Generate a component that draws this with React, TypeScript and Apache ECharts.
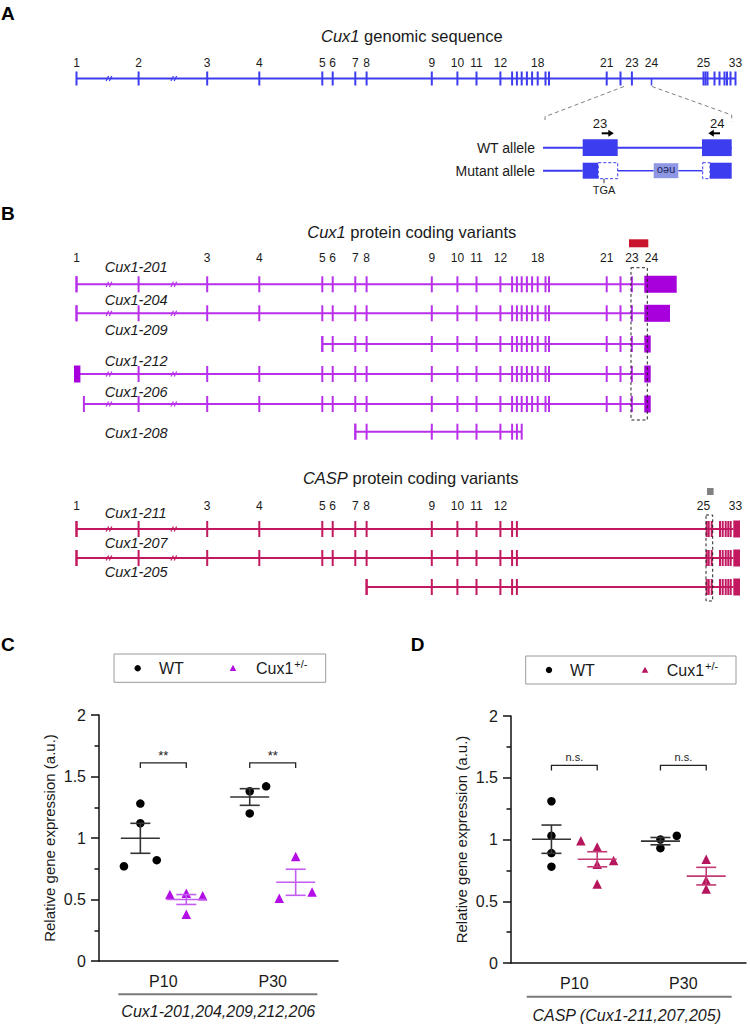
import React, { useEffect, useRef } from 'react';
import * as echarts from 'echarts';

const FONT = '"Liberation Sans", Arial, Helvetica, sans-serif';

// ---------------- data ----------------
// Exon 1..33 positions along the Cux1 locus (diagram units)
const exonPos = [76.5, 138.6, 207.2, 259.3, 322.3, 332.7, 355.3, 366.6, 431.8, 457.4, 476.5, 500.4,
  512.1, 516.9, 521.7, 526.9, 532.1, 537.7, 545.5, 549.0, 606.7, 620.5, 631.9, 651.5,
  703.5, 705.5, 707.5, 714.5, 719.5, 724.5, 727.0, 730.5, 735.5];
const genomicLabels = [1, 2, 3, 4, 5, 6, 7, 8, 9, 10, 11, 12, 18, 21, 23, 24, 25, 33];
const cux1ExonLabels = [1, 3, 4, 5, 6, 7, 8, 9, 10, 11, 12, 18, 21, 23, 24];
const caspExonLabels = [1, 3, 4, 5, 6, 7, 8, 9, 10, 11, 12, 25, 33];
const breakPos = [109, 173.8];

const cux1Names = ['Cux1-201', 'Cux1-204', 'Cux1-209', 'Cux1-212', 'Cux1-206', 'Cux1-208'];
const cux1FirstTick = [1, 1, 5, 2, 2, 7];
const cux1LastTick = [23, 23, 23, 23, 23, 15];
const cux1StartX = [76.5, 76.5, 322.3, 77.2, 83.9, 355.3];
const cux1EndX = [644.3, 644.3, 644.3, 644.3, 644.3, 521.7];
const cux1FirstBox: (number[] | null)[] = [null, null, null, [74, 80.4], null, null];
const cux1LastBox: (number[] | null)[] = [[644.3, 676.7], [644.3, 670], [644.3, 650.7], [644.3, 650.7], [644.3, 650.7], null];
const cux1Region = [631, 647.3]; // exon 23-24 boxed region
const cux1Probe = [629, 648.3];

const caspNames = ['Cux1-211', 'Cux1-207', 'Cux1-205'];
const caspFirstTick = [1, 1, 8];
const caspLastTick = [14, 14, 14];
const caspStartX = [76.5, 76.5, 366.6];
const caspEndX = [733.3, 733.3, 733.3];
const casp3Ticks = [706.7, 708.7, 711.7, 720.0, 722.7, 725.7, 728.3, 730.7];
const caspLastBox = [733.3, 740];
const caspRegion = [706, 712.7];
const caspProbe = [707, 713.6];

// inset: exon 23-24 of WT and mutant allele
const alleleSpan = [543, 731.7];
const wtExons = [[582.7, 617.7], [702, 731.7]];
const mutExons = [[582.7, 598.3], [710, 731.7]];
const mutDeleted = [[598.3, 617.7], [702.7, 710]];
const neoCassette = [653.7, 678.3];
const mutLineSegs = [[543, 582.7], [617.7, 653.7], [678.3, 702.7]];

// quantification
const categories = ['P10', 'P30'];
const yTickLabels = ['0', '0.5', '1', '1.5', '2'];
const cWtP10 = [0.77, 1.28, 1.12, 0.82];
const cMutP10 = [0.54, 0.55, 0.38, 0.53];
const cWtP30 = [1.38, 1.42, 1.20];
const cMutP30 = [0.51, 0.85, 0.56];
const dWtP10 = [1.31, 1.03, 0.89, 0.78];
const dMutP10 = [0.99, 0.94, 0.80, 0.83, 0.64];
const dWtP30 = [1.00, 0.93, 1.03];
const dMutP30 = [0.84, 0.67, 0.60];
const cSignif = ['**', '**'];
const dSignif = ['n.s.', 'n.s.'];

// ---------------- layout / style ----------------
const ROW_A = 78.5;
const cux1RowY = [284.3, 313.3, 344, 374, 404, 431.7];
const cux1LabelY = [266.7, 300, 330, 360.7, 392, 433];
const caspRowY = [529, 558, 587];
const caspLabelY = [513.3, 543.3, 571.5];
const jit = {
  cWtP10: [-1, 0, 0, 1], cMutP10: [-1, 0, 0, 1], cWtP30: [0, 1, 0], cMutP30: [-1, 0, 1],
  dWtP10: [0, 0, 0, 0], dMutP10: [-1, 0, 0, 1, 0], dWtP30: [0, 0, 1], dMutP30: [0, 0, 0],
};
const GROUP_OFF = 0.21;
const JIT_STEP = 0.15;

const BLUE = '#3d3df0';
const NEO = '#8e97e3';
const PURPLE = '#b930ea';
const PURPLE_BOX = '#a800dc';
const CRIMSON = '#c2185f';
const RED = '#c8142c';
const TXT = '#1a1a1a';
const MUT_C = '#b30ee6';
const MUT_C_BAR = '#c35cf0';
const MUT_D = '#b5155c';
const MUT_D_BAR = '#c33a74';

type Item =
  | { t: 'line'; a: number[]; b: number[]; c: string; w: number; dash?: number[] }
  | { t: 'rect'; a: number[]; b: number[]; fill: string; stroke?: string; w?: number; dash?: number[] }
  | { t: 'poly'; pts: number[][]; c: string; w: number; dash?: number[] }
  | { t: 'text'; a: number[]; s: string; size: number; c: string };

function renderShape(it: Item, api: any) {
  const P = (p: number[]) => api.coord(p);
  if (it.t === 'line') {
    const a = P(it.a), b = P(it.b);
    const style: any = { stroke: it.c, lineWidth: it.w, fill: null };
    if (it.dash) style.lineDash = it.dash;
    return { type: 'line', shape: { x1: a[0], y1: a[1], x2: b[0], y2: b[1] }, style };
  }
  if (it.t === 'rect') {
    const a = P(it.a), b = P(it.b);
    const style: any = { fill: it.fill, stroke: it.stroke || null, lineWidth: it.w || 0 };
    if (it.dash) style.lineDash = it.dash;
    return {
      type: 'rect',
      shape: { x: Math.min(a[0], b[0]), y: Math.min(a[1], b[1]), width: Math.abs(b[0] - a[0]), height: Math.abs(b[1] - a[1]) },
      style,
    };
  }
  if (it.t === 'poly') {
    const style: any = { stroke: it.c, lineWidth: it.w, fill: null };
    if (it.dash) style.lineDash = it.dash;
    return { type: 'polyline', shape: { points: it.pts.map(P) }, style };
  }
  const a = P(it.a);
  return {
    type: 'text',
    style: {
      text: it.s, x: a[0], y: a[1], fill: it.c, fontSize: it.size, fontFamily: FONT,
      align: 'center', verticalAlign: 'middle', textAlign: 'center', textVerticalAlign: 'middle',
    },
  };
}

function anchor(it: Item) {
  if (it.t === 'poly') return it.pts[0];
  return it.a;
}

function diagramSeries(items: Item[], z: number) {
  return {
    type: 'custom', coordinateSystem: 'cartesian2d', xAxisIndex: 0, yAxisIndex: 0,
    z, silent: true, clip: false, animation: false,
    data: items.map(anchor),
    renderItem: (params: any, api: any) => renderShape(items[params.dataIndex], api),
  };
}

function mean(v: number[]) { return v.reduce((s, x) => s + x, 0) / v.length; }
function sem(v: number[]) {
  const m = mean(v);
  const sd = Math.sqrt(v.reduce((s, x) => s + (x - m) * (x - m), 0) / (v.length - 1));
  return sd / Math.sqrt(v.length);
}

function buildDiagram() {
  const lines: Item[] = [];
  const ticks: Item[] = [];
  const boxes: Item[] = [];
  const over: Item[] = [];
  const texts: Item[] = [];
  const tick = (x: number, y: number, h: number, c: string) => ticks.push({ t: 'line', a: [x, y - h], b: [x, y + h], c, w: 2 });
  const brk = (x: number, y: number, c: string) => {
    for (const dx of [-1.6, 1.6]) over.push({ t: 'line', a: [x + dx - 1.2, y + 2.6], b: [x + dx + 1.2, y - 2.6], c, w: 1.2 });
  };
  const box = (x1: number, x2: number, y: number, h: number, fill: string) => boxes.push({ t: 'rect', a: [x1, y - h], b: [x2, y + h], fill });

  // ---- A: genomic sequence
  lines.push({ t: 'line', a: [exonPos[0], ROW_A], b: [exonPos[32], ROW_A], c: BLUE, w: 2 });
  exonPos.forEach((x, i) => {
    if (i === 23) ticks.push({ t: 'line', a: [x, ROW_A], b: [x, ROW_A + 7], c: BLUE, w: 1.5 });
    else tick(x, ROW_A, 7, BLUE);
  });
  breakPos.forEach((x) => brk(x, ROW_A, BLUE));
  genomicLabels.forEach((n) => texts.push({ t: 'text', a: [exonPos[n - 1], 63], s: String(n), size: 12, c: TXT }));
  over.push({ t: 'poly', pts: [[624, 86.5], [alleleSpan[0] + 2, 116.7], [alleleSpan[0] + 2, 123]], c: '#808080', w: 1, dash: [4, 3] });
  over.push({ t: 'poly', pts: [[652, 86.5], [alleleSpan[1], 115], [alleleSpan[1], 121.7]], c: '#808080', w: 1, dash: [4, 3] });

  // ---- A inset
  const WT_Y = 147.7, MUT_Y = 170.7;
  lines.push({ t: 'line', a: [alleleSpan[0], WT_Y], b: [alleleSpan[1], WT_Y], c: BLUE, w: 2 });
  wtExons.forEach(([a, b]) => boxes.push({ t: 'rect', a: [a, WT_Y - 8.4], b: [b, WT_Y + 8.4], fill: BLUE }));
  mutLineSegs.forEach(([a, b], i) => lines.push({ t: 'line', a: [a, MUT_Y], b: [b, MUT_Y], c: BLUE, w: i === 0 ? 2 : 1.5 }));
  mutExons.forEach(([a, b]) => boxes.push({ t: 'rect', a: [a, MUT_Y - 8], b: [b, MUT_Y + 8], fill: BLUE }));
  mutDeleted.forEach(([a, b]) => boxes.push({ t: 'rect', a: [a, MUT_Y - 8], b: [b, MUT_Y + 8], fill: '#ffffff', stroke: BLUE, w: 1, dash: [3, 2] }));
  boxes.push({ t: 'rect', a: [neoCassette[0], MUT_Y - 7.5], b: [neoCassette[1], MUT_Y + 7.5], fill: NEO });
  over.push({ t: 'line', a: [604, MUT_Y + 8], b: [604, MUT_Y + 12.5], c: '#333', w: 1 });

  // ---- B: Cux1 protein coding variants
  cux1Names.forEach((_, i) => {
    const y = cux1RowY[i];
    lines.push({ t: 'line', a: [cux1StartX[i], y], b: [cux1EndX[i], y], c: PURPLE, w: 2 });
    for (let e = cux1FirstTick[i]; e <= cux1LastTick[i]; e++) tick(exonPos[e - 1], y, 8, PURPLE);
    const fb = cux1FirstBox[i];
    if (fb) box(fb[0], fb[1], y, 8.5, PURPLE_BOX);
    else tick(cux1StartX[i], y, 8, PURPLE);
    const lb = cux1LastBox[i];
    if (lb) box(lb[0], lb[1], y, 8.5, PURPLE_BOX);
    if (cux1StartX[i] < breakPos[0]) breakPos.forEach((x) => brk(x, y, PURPLE));
  });
  cux1ExonLabels.forEach((n) => texts.push({ t: 'text', a: [exonPos[n - 1], 258], s: String(n), size: 12, c: TXT }));
  boxes.push({ t: 'rect', a: [cux1Probe[0], 239.3], b: [cux1Probe[1], 247.3], fill: RED });
  over.push({ t: 'rect', a: [cux1Region[0], 267.7], b: [cux1Region[1], 420], fill: 'none', stroke: '#222', w: 1, dash: [3, 2.5] });

  // ---- B: CASP protein coding variants
  caspNames.forEach((_, i) => {
    const y = caspRowY[i];
    lines.push({ t: 'line', a: [caspStartX[i], y], b: [caspEndX[i], y], c: CRIMSON, w: 2 });
    for (let e = caspFirstTick[i]; e <= caspLastTick[i]; e++) tick(exonPos[e - 1], y, 8, CRIMSON);
    tick(caspStartX[i], y, 8, CRIMSON);
    casp3Ticks.forEach((x) => tick(x, y, 8, CRIMSON));
    box(caspLastBox[0], caspLastBox[1], y, 8.5, CRIMSON);
    if (caspStartX[i] < breakPos[0]) breakPos.forEach((x) => brk(x, y, CRIMSON));
  });
  caspExonLabels.forEach((n) => texts.push({ t: 'text', a: [exonPos[n - 1], 505.7], s: String(n), size: 12, c: TXT }));
  boxes.push({ t: 'rect', a: [caspProbe[0], 488], b: [caspProbe[1], 495], fill: '#808080' });
  over.push({ t: 'rect', a: [caspRegion[0], 515], b: [caspRegion[1], 601], fill: 'none', stroke: '#222', w: 1, dash: [3, 2.5] });

  return [diagramSeries(lines, 2), diagramSeries(ticks, 3), diagramSeries(boxes, 4), diagramSeries(over, 5), diagramSeries(texts, 6)];
}

function scatterPanel(idx: number, groups: { name: string; vals: number[]; j: number[]; cat: number; side: number; color: string; bar: string; sym: string }[], signif: string[], sigY: number) {
  const series: any[] = [];
  groups.forEach((g) => {
    const cx = g.cat + g.side * GROUP_OFF;
    series.push({
      type: 'scatter', name: g.name, xAxisIndex: idx, yAxisIndex: idx, z: 4,
      symbol: g.sym, symbolSize: g.sym === 'circle' ? 8.5 : 9.5,
      itemStyle: { color: g.color, opacity: 1 },
      data: g.vals.map((v, k) => [cx + g.j[k] * JIT_STEP, v]),
    });
    const m = mean(g.vals), s = sem(g.vals);
    series.push({
      type: 'custom', xAxisIndex: idx, yAxisIndex: idx, z: 5, silent: true, clip: false,
      data: [[cx, m, m - s, m + s]],
      renderItem: (_p: any, api: any) => {
        const c = api.coord([api.value(0), api.value(1)]);
        const lo = api.coord([api.value(0), api.value(2)]);
        const hi = api.coord([api.value(0), api.value(3)]);
        const st = { stroke: g.bar, lineWidth: 1.6 };
        return {
          type: 'group',
          children: [
            { type: 'line', shape: { x1: c[0] - 19.5, y1: c[1], x2: c[0] + 19.5, y2: c[1] }, style: st },
            { type: 'line', shape: { x1: c[0], y1: lo[1], x2: c[0], y2: hi[1] }, style: st },
            { type: 'line', shape: { x1: c[0] - 10, y1: lo[1], x2: c[0] + 10, y2: lo[1] }, style: st },
            { type: 'line', shape: { x1: c[0] - 10, y1: hi[1], x2: c[0] + 10, y2: hi[1] }, style: st },
          ],
        };
      },
    });
  });
  series.push({
    type: 'custom', xAxisIndex: idx, yAxisIndex: idx, z: 5, silent: true, clip: false,
    data: signif.map((_, k) => [k + 1 - GROUP_OFF, k + 1 + GROUP_OFF, sigY]),
    renderItem: (p: any, api: any) => {
      const a = api.coord([api.value(0), api.value(2)]);
      const b = api.coord([api.value(1), api.value(2)]);
      const t = signif[p.dataIndex];
      return {
        type: 'group',
        children: [
          { type: 'polyline', shape: { points: [[a[0], a[1] + 5], [a[0], a[1]], [b[0], b[1]], [b[0], b[1] + 5]] }, style: { stroke: '#222', lineWidth: 1.3, fill: null } },
          {
            type: 'text',
            style: {
              text: t, x: (a[0] + b[0]) / 2, y: a[1] - (t === '**' ? 7 : 8.5), fill: '#222', fontSize: t === '**' ? 13 : 11, fontFamily: FONT,
              align: 'center', verticalAlign: 'middle', textAlign: 'center', textVerticalAlign: 'middle',
            },
          },
        ],
      };
    },
  });
  return series;
}

function valueAxes(gridIndex: number, min: number, max: number) {
  const x = {
    type: 'value', gridIndex, min, max,
    axisLine: { show: true, onZero: false, lineStyle: { color: '#111', width: 1.5 } },
    axisTick: { show: false }, splitLine: { show: false },
    axisLabel: {
      show: true, customValues: [1, 2], color: TXT, fontSize: 16, fontFamily: FONT, margin: 12,
      formatter: (v: number) => categories[Math.round(v) - 1] || '',
    },
  };
  const y = {
    type: 'value', gridIndex, min: 0, max: 2, interval: 0.5,
    name: 'Relative gene expression (a.u.)', nameLocation: 'middle', nameGap: 42,
    nameTextStyle: { color: TXT, fontSize: 15, fontFamily: FONT },
    axisLine: { show: true, lineStyle: { color: '#111', width: 1.5 } },
    axisTick: { show: true, length: 8, lineStyle: { color: '#111', width: 1.5 } },
    minorTick: { show: true, splitNumber: 2, length: 4.5, lineStyle: { color: '#111', width: 1.5 } },
    splitLine: { show: false }, minorSplitLine: { show: false },
    axisLabel: {
      color: TXT, fontSize: 16, fontFamily: FONT, margin: 13,
      formatter: (v: number) => yTickLabels[Math.round(v * 2)] ?? '',
    },
  };
  return { x, y };
}

function txt(x: number, y: number, text: string, o: any = {}) {
  return {
    type: 'text', x, y, z: 100, silent: true, rotation: o.rot || 0,
    style: {
      text, fill: o.color || TXT, fontSize: o.size || 14, fontFamily: FONT,
      fontStyle: o.italic ? 'italic' : 'normal', fontWeight: o.bold ? 'bold' : 'normal',
      align: o.align || 'left', verticalAlign: 'middle', textAlign: o.align || 'left', textVerticalAlign: 'middle',
      rich: o.rich,
    },
  };
}

function titleRich(size: number) {
  return {
    i: { fontStyle: 'italic', fontSize: size, fontFamily: FONT, fill: TXT },
    n: { fontSize: size, fontFamily: FONT, fill: TXT },
  };
}

function legend(x0: number, y0: number, w: number, h: number, dotX: number, wtX: number, triX: number, mutX: number, triColor: string) {
  const cy = y0 + h / 2;
  return [
    { type: 'rect', z: 90, silent: true, shape: { x: x0, y: y0, width: w, height: h }, style: { fill: '#fff', stroke: '#9a9a9a', lineWidth: 1 } },
    { type: 'circle', z: 100, silent: true, shape: { cx: dotX, cy, r: 3.2 }, style: { fill: '#000' } },
    txt(wtX, cy, 'WT', { size: 16 }),
    { type: 'polygon', z: 100, silent: true, shape: { points: [[triX, cy - 3.3], [triX + 3.3, cy + 2.8], [triX - 3.3, cy + 2.8]] }, style: { fill: triColor } },
    txt(mutX, cy, '{a|Cux1}{b|+/-}', {
      rich: {
        a: { fontSize: 16, fontFamily: FONT, fill: TXT, lineHeight: 20, verticalAlign: 'middle' },
        b: { fontSize: 11, fontFamily: FONT, fill: TXT, lineHeight: 20, verticalAlign: 'top', padding: [0, 0, 0, 1] },
      },
    }),
  ];
}

function buildOption() {
  const cAx = valueAxes(1, 0.412, 2.597);
  const dAx = valueAxes(2, 0.419, 2.575);
  const graphic: any[] = [
    txt(1, 13, 'A', { bold: true, size: 19, color: '#000' }),
    txt(1, 213, 'B', { bold: true, size: 19, color: '#000' }),
    txt(1, 644, 'C', { bold: true, size: 19, color: '#000' }),
    txt(410.7, 644, 'D', { bold: true, size: 19, color: '#000' }),
    txt(411.8, 36, '{i|Cux1}{n| genomic sequence}', { align: 'center', rich: titleRich(16.5) }),
    txt(411.8, 231.7, '{i|Cux1}{n| protein coding variants}', { align: 'center', rich: titleRich(16.5) }),
    txt(410.7, 478.3, '{i|CASP}{n| protein coding variants}', { align: 'center', rich: titleRich(16.5) }),
    // inset texts
    txt(535, 147.7, 'WT allele', { align: 'right', size: 14 }),
    txt(535, 170.7, 'Mutant allele', { align: 'right', size: 14 }),
    txt(600, 123.3, '23', { align: 'center', size: 13 }),
    txt(717.3, 123.3, '24', { align: 'center', size: 13 }),
    txt(604, 190, 'TGA', { align: 'center', size: 11 }),
    txt(666, 171, 'neo', { align: 'center', size: 11, rot: Math.PI, color: '#1d2459' }),
    { type: 'line', z: 100, silent: true, shape: { x1: 601.7, y1: 133.3, x2: 609.5, y2: 133.3 }, style: { stroke: '#000', lineWidth: 2 } },
    { type: 'polygon', z: 100, silent: true, shape: { points: [[613.8, 133.3], [608.3, 129.8], [608.3, 136.8]] }, style: { fill: '#000' } },
    { type: 'line', z: 100, silent: true, shape: { x1: 720, y1: 133.3, x2: 712.5, y2: 133.3 }, style: { stroke: '#000', lineWidth: 2 } },
    { type: 'polygon', z: 100, silent: true, shape: { points: [[708.3, 133.3], [713.8, 129.8], [713.8, 136.8]] }, style: { fill: '#000' } },
    // transcript labels
    ...cux1Names.map((n, i) => txt(104.7, cux1LabelY[i], n, { italic: true, size: 14.5 })),
    ...caspNames.map((n, i) => txt(104.7, caspLabelY[i], n, { italic: true, size: 14.5 })),
    // legends
    ...legend(114, 654, 211.7, 28.3, 137.7, 159, 233, 256, MUT_C),
    ...legend(525.7, 656, 210.3, 28, 549, 570, 645, 666.7, MUT_D),
    // group brackets under x axes
    { type: 'line', z: 100, silent: true, shape: { x1: 118.3, y1: 994.3, x2: 317.3, y2: 994.3 }, style: { stroke: '#7a7a7a', lineWidth: 2 } },
    txt(218.3, 1011.7, 'Cux1-201,204,209,212,206', { align: 'center', italic: true, size: 16 }),
    { type: 'line', z: 100, silent: true, shape: { x1: 526.7, y1: 996.7, x2: 731.7, y2: 996.7 }, style: { stroke: '#7a7a7a', lineWidth: 2 } },
    txt(626.7, 1015, 'CASP (Cux1-211,207,205)', { align: 'center', italic: true, size: 16 }),
  ];

  const series = [
    ...buildDiagram(),
    ...scatterPanel(1, [
      { name: 'WT', vals: cWtP10, j: jit.cWtP10, cat: 1, side: -1, color: '#000', bar: '#333', sym: 'circle' },
      { name: 'Cux1+/-', vals: cMutP10, j: jit.cMutP10, cat: 1, side: 1, color: MUT_C, bar: MUT_C_BAR, sym: 'triangle' },
      { name: 'WT', vals: cWtP30, j: jit.cWtP30, cat: 2, side: -1, color: '#000', bar: '#333', sym: 'circle' },
      { name: 'Cux1+/-', vals: cMutP30, j: jit.cMutP30, cat: 2, side: 1, color: MUT_C, bar: MUT_C_BAR, sym: 'triangle' },
    ], cSignif, 1.61),
    ...scatterPanel(2, [
      { name: 'WT', vals: dWtP10, j: jit.dWtP10, cat: 1, side: -1, color: '#000', bar: '#333', sym: 'circle' },
      { name: 'Cux1+/-', vals: dMutP10, j: jit.dMutP10, cat: 1, side: 1, color: MUT_D, bar: MUT_D_BAR, sym: 'triangle' },
      { name: 'WT', vals: dWtP30, j: jit.dWtP30, cat: 2, side: -1, color: '#000', bar: '#333', sym: 'circle' },
      { name: 'Cux1+/-', vals: dMutP30, j: jit.dMutP30, cat: 2, side: 1, color: MUT_D, bar: MUT_D_BAR, sym: 'triangle' },
    ], dSignif, 1.60),
  ];

  return {
    animation: false,
    backgroundColor: '#ffffff',
    textStyle: { fontFamily: FONT },
    grid: [
      { left: 0, top: 0, width: 750, height: 1026, outerBoundsMode: 'none', containLabel: false },
      { left: 99, top: 715, width: 239, height: 246, outerBoundsMode: 'none', containLabel: false },
      { left: 511, top: 716, width: 235, height: 247, outerBoundsMode: 'none', containLabel: false },
    ],
    xAxis: [
      { type: 'value', gridIndex: 0, min: 0, max: 750, show: false },
      cAx.x, dAx.x,
    ],
    yAxis: [
      { type: 'value', gridIndex: 0, min: 0, max: 1026, inverse: true, show: false },
      cAx.y, dAx.y,
    ],
    graphic,
    series,
  };
}

export default function App() {
  const ref = useRef<HTMLDivElement>(null);
  useEffect(() => {
    const chart = echarts.init(ref.current!, undefined, { renderer: 'svg', width: 750, height: 1026 });
    chart.setOption(buildOption() as any);
    return () => chart.dispose();
  }, []);
  return <div ref={ref} style={{ position: 'absolute', left: 0, top: 0, width: 750, height: 1026, background: '#fff' }} />;
}
